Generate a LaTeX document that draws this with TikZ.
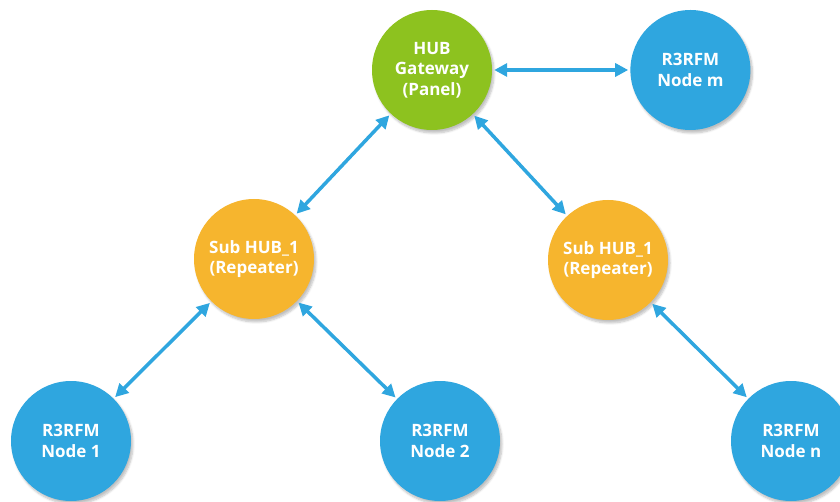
\documentclass[tikz,border=0pt]{standalone}
\usepackage{fontspec}
\setmainfont{Open Sans}
\usepackage{tikz}
\usetikzlibrary{positioning,arrows.meta,shadows.blur}
\definecolor{hubgreen}{RGB}{141,194,31}
\definecolor{suborange}{RGB}{246,181,46}
\definecolor{nodeblue}{RGB}{47,166,223}

\begin{document}
\begin{tikzpicture}[x=1pt, y=1pt,
  station/.style={circle, minimum size=120pt, inner sep=0pt, text=white, align=center,
    font=\fontsize{17}{20.5}\selectfont\bfseries,
    blur shadow={shadow xshift=2pt, shadow yshift=-3pt, shadow blur steps=6, shadow opacity=25}},
  hubnode/.style={station, fill=hubgreen},
  subnode/.style={station, fill=suborange},
  rfnode/.style={station, fill=nodeblue},
  link/.style={{Triangle[length=13pt,width=13pt]}-{Triangle[length=13pt,width=13pt]},
    line width=3.5pt, draw=nodeblue, shorten <=2pt, shorten >=2pt}]
\useasboundingbox (0,0) rectangle (840,501);

\node[hubnode] (hub) at (432,431) {HUB\\Gateway\\(Panel)};
\node[rfnode, right=138pt of hub] (nodem) {R3RFM\\Node m};
\node[subnode] (subleft) at (254,242) {Sub HUB\_1\\(Repeater)};
\node[subnode] (subright) at (608,241) {Sub HUB\_1\\(Repeater)};
\node[rfnode] (node1) at (71,60) {R3RFM\\Node 1};
\node[rfnode] (node2) at (440,60) {R3RFM\\Node 2};
\node[rfnode] (noden) at (791,60) {R3RFM\\Node n};

\draw[link] (hub) -- (nodem);
\draw[link] (hub) -- (subleft);
\draw[link] (hub) -- (subright);
\draw[link] (subleft) -- (node1);
\draw[link] (subleft) -- (node2);
\draw[link] (subright) -- (noden);
\end{tikzpicture}
\end{document}
